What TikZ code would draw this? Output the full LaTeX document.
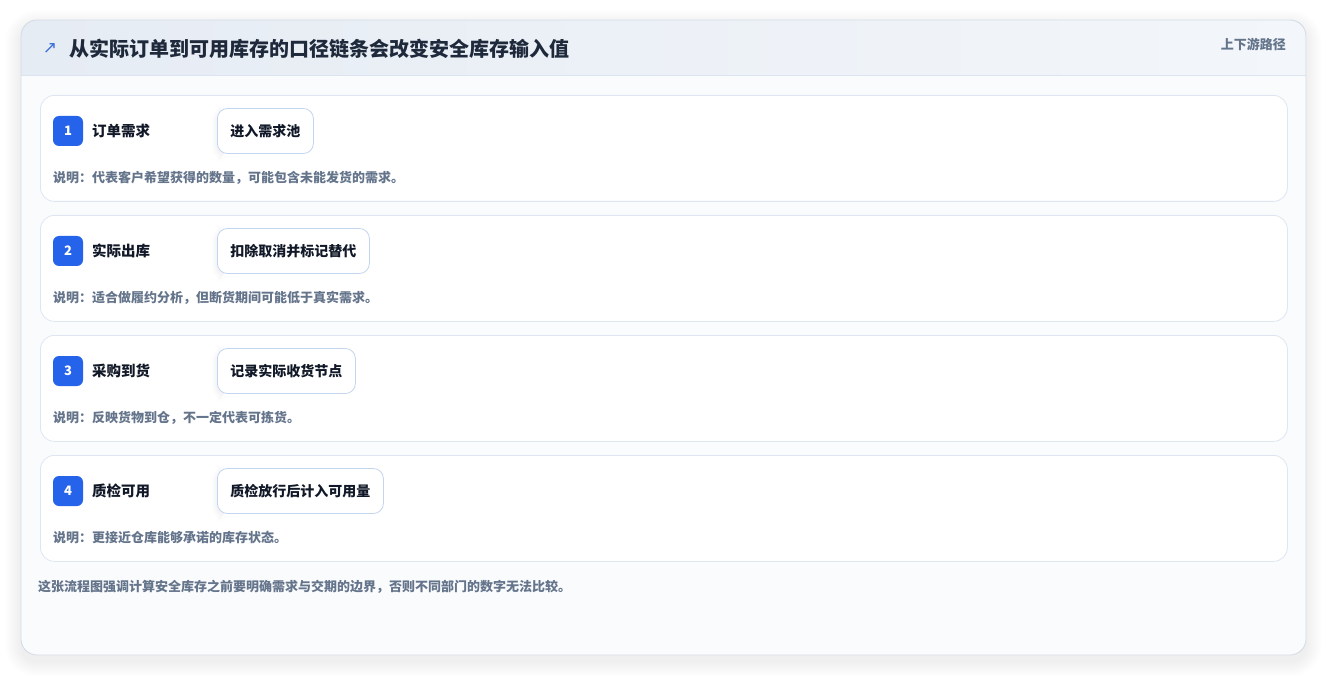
\documentclass[tikz,border=0pt]{standalone}
\usepackage{fontspec}
\setmainfont{Noto Sans CJK SC}
\newfontfamily\symfont{DejaVu Sans}
\definecolor{cardbg}{HTML}{FAFBFD}
\definecolor{cardborder}{HTML}{D5DCE6}
\definecolor{headL}{HTML}{E6ECF4}
\definecolor{headR}{HTML}{F3F6FA}
\definecolor{headline}{HTML}{DCE4EF}
\definecolor{rowborder}{HTML}{DEE6F1}
\definecolor{badgeblue}{HTML}{2563EB}
\definecolor{titlecol}{HTML}{1E293B}
\definecolor{labelcol}{HTML}{111827}
\definecolor{desccol}{HTML}{64748B}
\definecolor{pillborder}{HTML}{C3D5EF}
\definecolor{arrowblue}{HTML}{3B6FD9}
\tikzset{
  rowbox/.style={draw=rowborder, fill=white, rounded corners=14pt, minimum width=1247pt, minimum height=106pt, anchor=north west, inner sep=0pt, line width=0.8pt},
  badge/.style={fill=badgeblue, rounded corners=6pt, minimum width=30pt, minimum height=30pt, inner sep=0pt, text=white, font=\bfseries\fontsize{13}{13}\selectfont},
  steplabel/.style={anchor=west, inner sep=0pt, text=labelcol, font=\bfseries\fontsize{14.5}{15}\selectfont},
  pill/.style={draw=pillborder, fill=white, rounded corners=10pt, minimum height=45pt, inner xsep=13pt, anchor=west, text=labelcol, font=\bfseries\fontsize{14}{15}\selectfont, line width=0.8pt},
  desc/.style={anchor=west, inner sep=0pt, text=desccol, font=\bfseries\fontsize{13}{14}\selectfont},
}
\begin{document}
\begin{tikzpicture}[x=1pt,y=-1pt]
\useasboundingbox (0,0) rectangle (1327,676);
% card shadow
\foreach \i in {1,...,16}{
  \fill[black, opacity=0.0045, rounded corners=16pt+\i pt] (21-\i,20-\i+6) rectangle (1306+\i,655+\i+6);
}
\fill[cardbg, rounded corners=16pt] (21,20) rectangle (1306,655);
\begin{scope}
  \clip[rounded corners=16pt] (21,20) rectangle (1306,655);
  \shade[left color=headL, right color=headR] (21,20) rectangle (1306,75);
  \draw[headline, line width=0.8pt] (21,75) -- (1306,75);
\end{scope}
\draw[cardborder, line width=0.9pt, rounded corners=16pt] (21,20) rectangle (1306,655);
% header
\node[anchor=center, inner sep=0pt, text=arrowblue, font=\symfont\fontsize{17}{17}\selectfont] (arrow) at (50,49) {↗};
\node[anchor=west, inner sep=0pt, text=titlecol, font=\bfseries\fontsize{20}{20}\selectfont] (title) at (69,49) {从实际订单到可用库存的口径链条会改变安全库存输入值};
\node[anchor=east, inner sep=0pt, text=desccol, font=\bfseries\fontsize{13}{13}\selectfont] (tag) at (1286,44) {上下游路径};
% rows
\foreach \n/\y/\lab/\pt/\ds in {
  1/95/订单需求/进入需求池/说明：代表客户希望获得的数量，可能包含未能发货的需求。,
  2/215/实际出库/扣除取消并标记替代/说明：适合做履约分析，但断货期间可能低于真实需求。,
  3/335/采购到货/记录实际收货节点/说明：反映货物到仓，不一定代表可拣货。,
  4/455/质检可用/质检放行后计入可用量/说明：更接近仓库能够承诺的库存状态。}{
  \node[rowbox] (row\n) at (40,\y) {};
  \node[badge] (badge\n) at (68,\y+36) {\n};
  \node[steplabel] (label\n) at (92,\y+36) {\lab};
  \foreach \k in {1,...,5}{
    \fill[black, opacity=0.008, rounded corners=10pt+\k pt] (217-\k,\y+13-\k+3) rectangle (217+10,\y+58+\k+3);
  }
  \node[pill] (pill\n) at (217,\y+36) {\pt};
  \node[desc] (desc\n) at (53,\y+83) {\ds};
}
\node[desc] (footer) at (38,587) {这张流程图强调计算安全库存之前要明确需求与交期的边界，否则不同部门的数字无法比较。};
\end{tikzpicture}
\end{document}
